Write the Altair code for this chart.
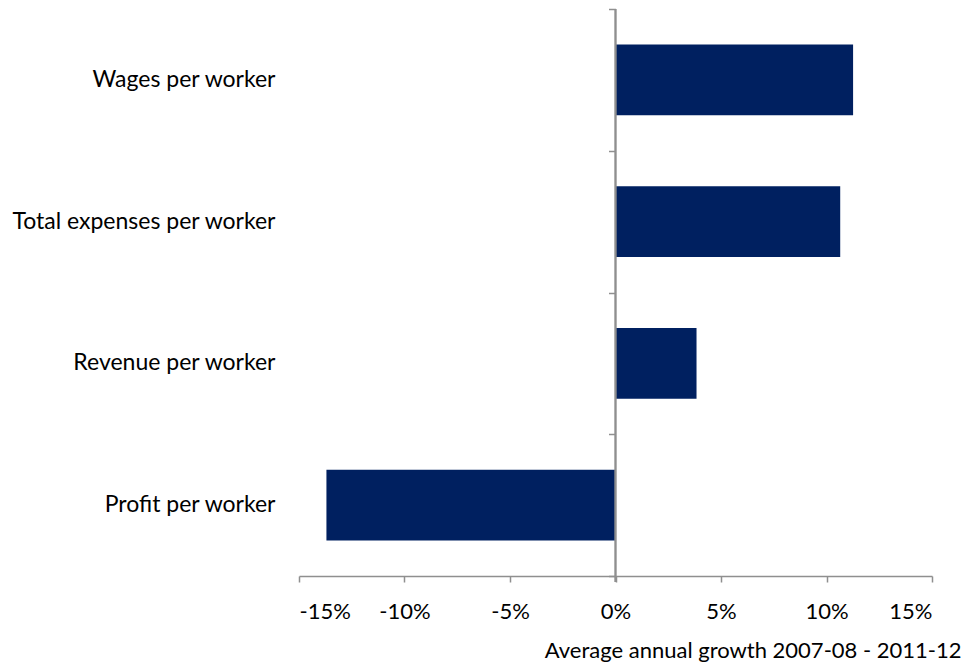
import altair as alt
import pandas as pd

categories = ["Wages per worker", "Total expenses per worker", "Revenue per worker", "Profit per worker"]
growth_pct = [11.26, 10.65, 3.84, -13.7]
x_ticks_pct = [-15, -10, -5, 0, 5, 10, 15]

df = pd.DataFrame({"cat": categories, "val": [v / 100 for v in growth_pct]})

W, H = 633, 567
FONT = "Lato"
AX = "#8f8f8f"
LW = 1.5

yscale = alt.Scale(domain=categories, paddingInner=0, paddingOuter=0)
xscale = alt.Scale(domain=[-0.15, 0.15], nice=False, zero=False)

bars = alt.Chart(df).mark_bar(color="#002060", height=alt.RelativeBandSize(0.5)).encode(
    x=alt.X("val:Q", scale=xscale,
            axis=alt.Axis(values=[v / 100 for v in x_ticks_pct],
                          labelExpr="(datum.value < 0 ? '-' : '') + format(abs(datum.value), '.0%')",
                          title="Average annual growth 2007-08 - 2011-12",
                          titleFont=FONT, titleFontSize=22, titleFontWeight="normal", titleColor="black",
                          titleX=W + 29, titleAlign="right", titleY=81, titleBaseline="alphabetic",
                          labelFont=FONT, labelFontSize=22, labelColor="black", labelPadding=19,
                          domainColor=AX, domainWidth=LW, tickColor=AX, tickWidth=LW, tickSize=6,
                          grid=False)),
    y=alt.Y("cat:N", sort=categories, scale=yscale,
            axis=alt.Axis(title=None, ticks=False, domain=False, labelPadding=24, grid=False,
                          labelFont=FONT, labelFontSize=23, labelColor="black", labelLimit=400)),
)

tick_axis = alt.Chart(df).mark_point(opacity=0).encode(
    x=alt.X("val:Q", scale=xscale),
    y=alt.Y("cat:N", sort=categories, scale=yscale,
            axis=alt.Axis(orient="left", offset=-W / 2, labels=False, domain=False, title=None,
                          tickBand="extent", tickSize=7, tickColor=AX, tickWidth=LW, grid=False)),
)

zero_line = alt.Chart(df).mark_rule(color=AX, strokeWidth=LW).encode(
    x=alt.datum(0), y=alt.value(0), y2=alt.value(H + 6)
)

chart = alt.layer(bars, tick_axis, zero_line).resolve_axis(y="independent").properties(
    width=W, height=H,
    background="white",
    autosize=alt.AutoSizeParams(type="none"),
    padding={"left": 299, "top": 9, "right": 39, "bottom": 86},
).configure_view(strokeWidth=0, stroke="transparent").configure_axis(grid=False)

chart.save("out.html", embed_options={"renderer": "svg", "actions": False})
